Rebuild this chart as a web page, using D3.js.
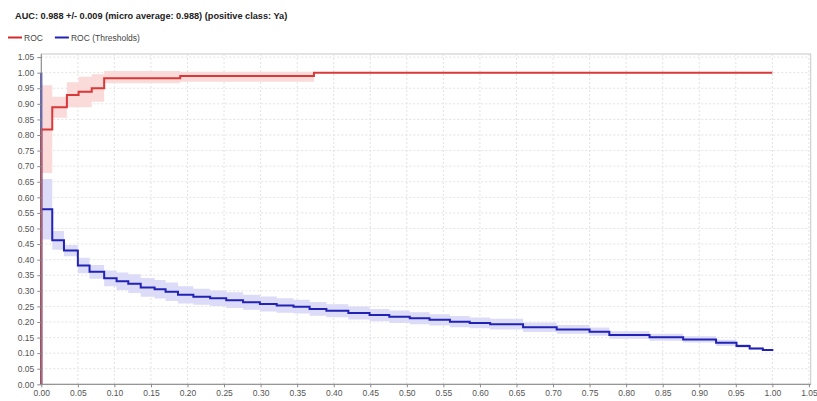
<!DOCTYPE html>
<html>
<head>
<meta charset="utf-8">
<script src="https://cdn.jsdelivr.net/npm/d3@7"></script>
<style>
  body { margin: 0; background: #fff; }
  svg { display: block; font-family: "Liberation Sans", Arial, sans-serif; }
  .tick text { fill: #555; font-size: 8.5px; }
  .grid line { stroke: #e2e2e2; stroke-dasharray: 2,2; }
</style>
</head>
<body>
<div id="chart"></div>
<script>
// ROC curve (false positive rate -> true positive rate), with +/- std band
const rocFpr  = [0, 0, 0.015, 0.035, 0.051, 0.069, 0.086, 0.19, 0.373, 1.0];
const rocTpr  = [0, 0.818, 0.889, 0.928, 0.939, 0.95, 0.982, 0.989, 1.0, 1.0];
const rocLow  = [0, 0.678, 0.855, 0.889, 0.889, 0.907, 0.966, 0.971, 1.0, 1.0];
const rocHigh = [0, 0.96, 0.923, 0.969, 0.987, 0.995, 1.005, 1.003, 1.0, 1.0];

// ROC (Thresholds): threshold value per false positive rate, with spread
const thrFpr = [0, 0, 0, 0.015, 0.031, 0.050, 0.066, 0.086, 0.103, 0.119, 0.136, 0.155, 0.170,
                0.187, 0.208, 0.231, 0.253, 0.276, 0.299, 0.322, 0.345, 0.367, 0.39, 0.42,
                0.449, 0.476, 0.504, 0.531, 0.559, 0.586, 0.614, 0.659, 0.705, 0.75, 0.777,
                0.832, 0.878, 0.923, 0.951, 0.969, 0.987, 1.0];
const thrVal = [0, 1.0, 0.562, 0.462, 0.429, 0.381, 0.361, 0.340, 0.331, 0.323, 0.311, 0.305, 0.297,
                0.287, 0.281, 0.276, 0.27, 0.263, 0.258, 0.253, 0.249, 0.242, 0.236, 0.229,
                0.222, 0.217, 0.212, 0.207, 0.201, 0.197, 0.193, 0.183, 0.176, 0.169, 0.158,
                0.151, 0.144, 0.133, 0.123, 0.115, 0.110, 0.107];
const thrSpread = [0, 0, 0.097, 0.03, 0.018, 0.025, 0.022, 0.025, 0.028, 0.03, 0.03, 0.03, 0.03,
                   0.028, 0.026, 0.025, 0.025, 0.024, 0.024, 0.023, 0.022, 0.022, 0.021, 0.021,
                   0.02, 0.02, 0.019, 0.018, 0.018, 0.017, 0.017, 0.015, 0.014, 0.013, 0.012,
                   0.011, 0.01, 0.01, 0.006, 0.004, 0.003, 0];

const ticks = d3.range(0, 21 + 1).map(i => +(i * 0.05).toFixed(2));

const titleText = "AUC: 0.988 +/- 0.009 (micro average: 0.988) (positive class: Ya)";
const legendItems = [
  {name: "ROC", color: "#d42a2a"},
  {name: "ROC (Thresholds)", color: "#2222b4"}
];

const width = 817, height = 401;
const svg = d3.select("#chart").append("svg")
  .attr("width", width)
  .attr("height", height);

const x = d3.scaleLinear().domain([0, 1.05]).range([41.3, 808.9]);
const y = d3.scaleLinear().domain([0, 1.05]).range([384.3, 57.1]);

// title
svg.append("text")
  .attr("x", 15)
  .attr("y", 19)
  .style("font-weight", "bold")
  .style("font-size", "9.2px")
  .style("fill", "#222")
  .text(titleText);

// legend
let lx = 8;
legendItems.forEach(item => {
  svg.append("line")
    .attr("x1", lx).attr("x2", lx + 14)
    .attr("y1", 37.5).attr("y2", 37.5)
    .style("stroke", item.color)
    .style("stroke-width", 2);
  const t = svg.append("text")
    .attr("x", lx + 16)
    .attr("y", 40.5)
    .style("font-size", "8.5px")
    .style("fill", "#444")
    .text(item.name);
  lx += 16 + t.node().getComputedTextLength() + 12;
});

// plot frame + grid
const x0 = x.range()[0], x1 = x(1.0525), yTop = y(1.06), yBot = y.range()[0];
svg.append("rect")
  .attr("x", x0).attr("y", yTop)
  .attr("width", x1 - x0).attr("height", yBot - yTop)
  .style("fill", "#fff")
  .style("stroke", "#c8c8c8");

const grid = svg.append("g").attr("class", "grid");
grid.selectAll(".gx").data(ticks.slice(1)).join("line")
  .attr("x1", d => x(d)).attr("x2", d => x(d))
  .attr("y1", yTop).attr("y2", yBot);
grid.selectAll(".gy").data(ticks.slice(1)).join("line")
  .attr("x1", x0).attr("x2", x1)
  .attr("y1", d => y(d)).attr("y2", d => y(d));

// bands
const rocPts = rocFpr.map((f, i) => ({f, v: rocTpr[i], lo: rocLow[i], hi: rocHigh[i]}));
const thrPts = thrFpr.map((f, i) => ({f, v: thrVal[i], lo: thrVal[i] - thrSpread[i], hi: thrVal[i] + thrSpread[i]}));

const band = d3.area()
  .curve(d3.curveStepAfter)
  .x(d => x(d.f))
  .y0(d => y(d.lo))
  .y1(d => y(d.hi));

svg.append("path").datum(rocPts)
  .attr("d", band)
  .style("fill", "#fbdada");

svg.append("path").datum(thrPts)
  .attr("d", band)
  .style("fill", "#dcdcf8");

// lines
const line = d3.line()
  .curve(d3.curveStepAfter)
  .x(d => x(d.f))
  .y(d => y(d.v));

svg.append("path").datum(thrPts)
  .attr("d", line)
  .style("fill", "none")
  .style("stroke", legendItems[1].color)
  .style("stroke-width", 2);

svg.append("path").datum(rocPts)
  .attr("d", line)
  .style("fill", "none")
  .style("stroke", legendItems[0].color)
  .style("stroke-width", 2)
  .style("opacity", 0.92);

// axes
const fmt = d3.format(".2f");
const xAxis = d3.axisBottom(x).tickValues(ticks).tickFormat(fmt).tickSize(3).tickPadding(3);
const yAxis = d3.axisLeft(y).tickValues(ticks).tickFormat(fmt).tickSize(4).tickPadding(3);

const gx = svg.append("g")
  .attr("transform", `translate(0,${yBot})`)
  .call(xAxis);
gx.select(".domain").attr("d", `M${x0},0H${x1}`);

const gy = svg.append("g")
  .attr("transform", `translate(${x0},0)`)
  .call(yAxis);
gy.select(".domain").attr("d", `M0,${yBot}V${yTop}`);

svg.selectAll(".domain").style("stroke", "#888");
svg.selectAll(".tick line").style("stroke", "#888");
</script>
</body>
</html>
